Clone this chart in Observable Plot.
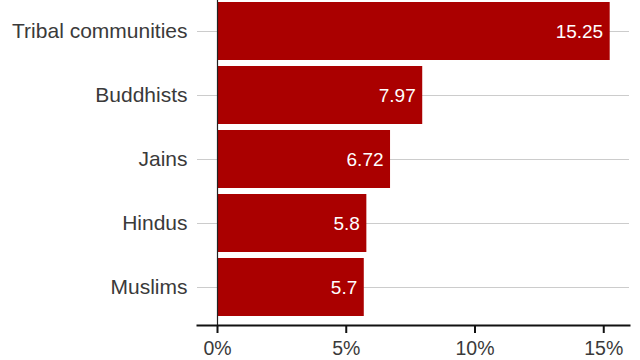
<!DOCTYPE html>
<html>
<head>
<meta charset="utf-8">
<script src="https://cdn.jsdelivr.net/npm/d3@7"></script>
<script src="https://cdn.jsdelivr.net/npm/@observablehq/plot@0.6"></script>
<style>
  html, body { margin: 0; padding: 0; background: #fff; }
  svg { font-family: "Liberation Sans", Arial, sans-serif; display: block; }
</style>
</head>
<body>
<div id="chart"></div>
<script>
const categories = ["Tribal communities", "Buddhists", "Jains", "Hindus", "Muslims"];
const values = [15.25, 7.97, 6.72, 5.8, 5.7];
const valueLabels = ["15.25", "7.97", "6.72", "5.8", "5.7"];
const xTicks = [0, 5, 10, 15];

const data = categories.map((c, i) => ({cat: c, value: values[i], label: valueLabels[i]}));

const chart = Plot.plot({
  width: 640,
  height: 360,
  marginLeft: 197,
  marginRight: 11,
  marginTop: 0,
  marginBottom: 35,
  style: {fontFamily: '"Liberation Sans", Arial, sans-serif', background: "#fff"},
  x: {domain: [0, 16], insetLeft: 20},
  y: {domain: categories, paddingInner: 0.094, paddingOuter: 0.03, insetBottom: 7},
  marks: [
    Plot.ruleY(categories, {y: d => d, stroke: "#cccccc", strokeWidth: 1}),
    Plot.barX(data, {x: "value", y: "cat", fill: "#aa0000"}),
    Plot.ruleX([0], {stroke: "#222", strokeWidth: 1.2}),
    Plot.text(data, {x: "value", y: "cat", text: "label", textAnchor: "end", dx: -7, fill: "white", fontSize: 19}),
    Plot.frame({anchor: "bottom", stroke: "#111", strokeWidth: 2}),
    Plot.axisX({ticks: xTicks, tickFormat: d => d + "%", tickSize: 8, tickPadding: 8, fontSize: 19.5, stroke: "#111", strokeWidth: 2, fill: "#3a3a3a", label: null}),
    Plot.axisY({tickSize: 0, tickPadding: 10, fontSize: 21, fill: "#3a3a3a", label: null})
  ]
});
document.getElementById("chart").appendChild(chart);
</script>
</body>
</html>
